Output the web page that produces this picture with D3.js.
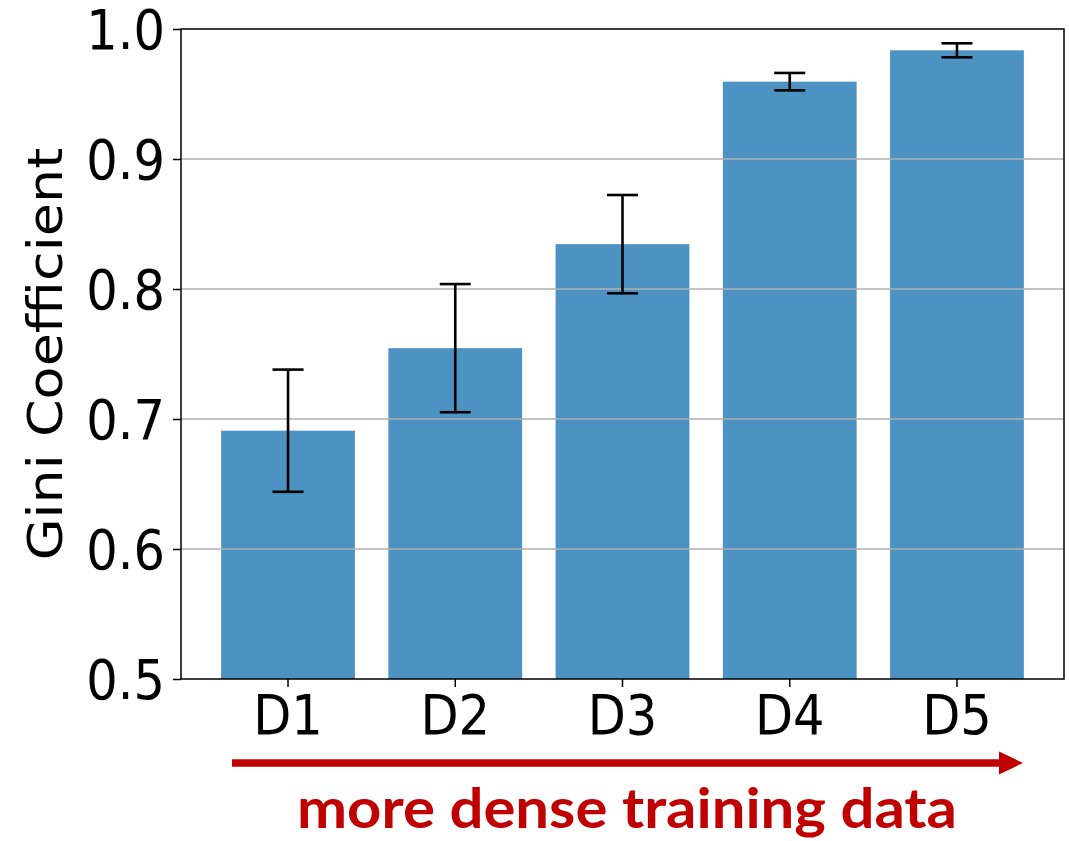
<!DOCTYPE html>
<html>
<head>
<meta charset="utf-8">
<script src="https://cdn.jsdelivr.net/npm/d3@7"></script>
<style>
  html, body { margin: 0; padding: 0; background: #fff; }
  svg { display: block; }
</style>
</head>
<body>
<svg id="chart" width="1069" height="841"></svg>
<script>
// Gini coefficient per dataset, mean with symmetric error
const categories = ["D1", "D2", "D3", "D4", "D5"];
const giniMean = [0.691, 0.7545, 0.8345, 0.9595, 0.9836];
const giniErr = [0.047, 0.0493, 0.0378, 0.0067, 0.0054];
const yTicks = [0.5, 0.6, 0.7, 0.8, 0.9, 1.0];
const yLabel = "Gini Coefficient";
const caption = "more dense training data";

const svg = d3.select("#chart");
const plotL = 181, plotR = 1064, plotT = 29, plotB = 679;
const font = "'DejaVu Sans', sans-serif";
const squeeze = 0.9; // glyphs are slightly narrower than tall

const x = d3.scaleBand().domain(categories).range([plotL, plotR])
  .paddingInner(0.2).paddingOuter(0.24);
const y = d3.scaleLinear().domain([0.5, 1.0]).range([plotB, plotT]);

const data = categories.map((c, i) => ({ c, v: giniMean[i], e: giniErr[i] }));

// bars
svg.append("g").selectAll("rect").data(data).join("rect")
  .attr("x", d => x(d.c))
  .attr("width", x.bandwidth())
  .attr("y", d => y(d.v))
  .attr("height", d => y(0.5) - y(d.v))
  .attr("fill", "#1f77b4")
  .attr("fill-opacity", 0.8);

// horizontal grid
svg.append("g").selectAll("line").data(yTicks.slice(1, -1)).join("line")
  .attr("x1", plotL).attr("x2", plotR)
  .attr("y1", d => y(d)).attr("y2", d => y(d))
  .attr("stroke", "#b0b0b0").attr("stroke-width", 1.6);

// error bars
const eg = svg.append("g").attr("stroke", "#000").attr("stroke-width", 2.6);
const cx = d => x(d.c) + x.bandwidth() / 2;
const capHalf = 15.5;
eg.selectAll(".stem").data(data).join("line").attr("class", "stem")
  .attr("x1", cx).attr("x2", cx)
  .attr("y1", d => y(d.v + d.e)).attr("y2", d => y(d.v - d.e));
eg.selectAll(".capHi").data(data).join("line").attr("class", "capHi")
  .attr("x1", d => cx(d) - capHalf).attr("x2", d => cx(d) + capHalf)
  .attr("y1", d => y(d.v + d.e)).attr("y2", d => y(d.v + d.e));
eg.selectAll(".capLo").data(data).join("line").attr("class", "capLo")
  .attr("x1", d => cx(d) - capHalf).attr("x2", d => cx(d) + capHalf)
  .attr("y1", d => y(d.v - d.e)).attr("y2", d => y(d.v - d.e));

// axes
const yAxis = svg.append("g").attr("transform", `translate(${plotL},0)`)
  .call(d3.axisLeft(y).tickValues(yTicks).tickFormat(d3.format(".1f")).tickSize(8).tickPadding(8));
const xAxis = svg.append("g").attr("transform", `translate(0,${plotB})`)
  .call(d3.axisBottom(x).tickSize(8).tickPadding(8));

[yAxis, xAxis].forEach(a => {
  a.select(".domain").remove();
  a.selectAll(".tick line").attr("stroke", "#000").attr("stroke-width", 1.5);
  a.selectAll(".tick text").attr("fill", "#000")
    .style("font-family", font).style("font-size", "55px");
});

// narrow tick labels horizontally about their anchor
yAxis.selectAll(".tick text").each(function () {
  const t = d3.select(this);
  const tx = +t.attr("x");
  t.attr("x", 0).attr("dy", "0.36em")
   .attr("transform", `translate(${tx},0) scale(${squeeze},1)`);
});
xAxis.selectAll(".tick text").attr("transform", `scale(${squeeze},1)`).attr("y", 16);

// frame
svg.append("rect")
  .attr("x", plotL).attr("y", plotT)
  .attr("width", plotR - plotL).attr("height", plotB - plotT)
  .attr("fill", "none").attr("stroke", "#000").attr("stroke-width", 1.5);

// y label
svg.append("text")
  .attr("transform", `translate(62,${(plotT + plotB) / 2}) scale(${squeeze},1) rotate(-90)`)
  .attr("text-anchor", "middle")
  .style("font-family", font).style("font-size", "54px")
  .attr("fill", "#000")
  .text(yLabel);

// arrow under the axis
const ay = 763, ax0 = 232, ax1 = 1023, headLen = 24, headHalf = 11.5;
svg.append("line")
  .attr("x1", ax0).attr("x2", ax1 - headLen + 2)
  .attr("y1", ay).attr("y2", ay)
  .attr("stroke", "#C00000").attr("stroke-width", 7.5);
svg.append("path")
  .attr("d", `M${ax1 - headLen},${ay - headHalf} L${ax1},${ay} L${ax1 - headLen},${ay + headHalf} Z`)
  .attr("fill", "#C00000");

svg.append("text")
  .attr("x", 297).attr("y", 828)
  .attr("textLength", 660).attr("lengthAdjust", "spacingAndGlyphs")
  .style("font-family", "Lato, 'Open Sans', sans-serif")
  .style("font-size", "55px").style("font-weight", "bold")
  .attr("fill", "#C00000")
  .text(caption);
</script>
</body>
</html>
